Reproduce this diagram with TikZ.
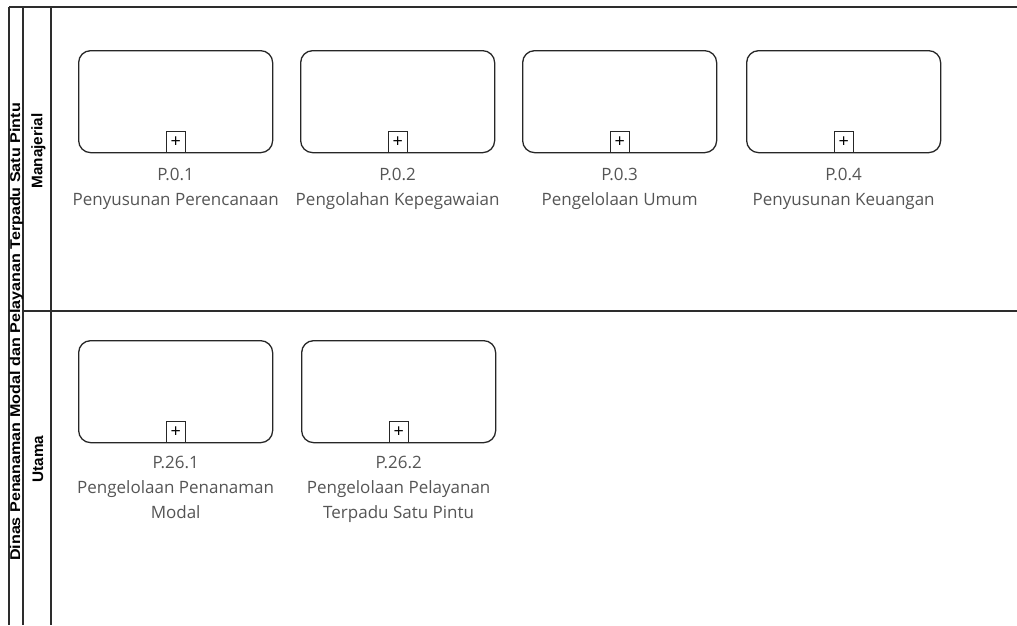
\documentclass[tikz,border=0pt]{standalone}
\usepackage{fontspec}
\setmainfont{Open Sans}
\newfontfamily\lanefont{Liberation Sans}
\definecolor{txt}{RGB}{85,85,85}
\definecolor{ln}{RGB}{45,45,45}
\begin{document}
\begin{tikzpicture}[x=1pt,y=-1pt,
  sub/.style={draw=black!85,line width=1.3pt,rounded corners=12pt,minimum width=194pt,minimum height=102pt,inner sep=0pt,anchor=north west},
  plusbox/.style={draw=black!85,line width=1pt,minimum width=19pt,minimum height=21pt,inner sep=0pt,anchor=south,fill=white,font=\fontsize{18}{18}\selectfont},
  lbl/.style={anchor=north,align=center,text=txt,font=\fontsize{17}{25}\selectfont,inner sep=0pt},
  lane/.style={line width=1.3pt,draw=ln},
  lanelbl/.style={rotate=90,inner sep=0pt,font=\lanefont\bfseries\fontsize{15.3}{16}\selectfont},
  poollbl/.style={rotate=90,inner sep=0pt,font=\lanefont\bfseries\fontsize{16.1}{17}\selectfont}]
\useasboundingbox (0,0) rectangle (1017,625);

% lane frame
\coordinate (tl) at (9,7);
\coordinate (tr) at (1017,7);
\coordinate (bl) at (9,625);
\coordinate (c2t) at (23,7);
\coordinate (c2b) at (23,625);
\coordinate (c3t) at (51,7);
\coordinate (c3b) at (51,625);
\coordinate (dl) at (23,311);
\coordinate (dr) at (1017,311);
\draw[lane] (tl) -- (tr);
\draw[lane] (tl) -- (bl);
\draw[lane] (c2t) -- (c2b);
\draw[lane] (c3t) -- (c3b);
\draw[lane] (dl) -- (dr);

% lane labels
\node[poollbl] (pool) at (16.5,332) {\scalebox{1}[0.88]{Dinas Penanaman Modal dan Pelayanan Terpadu Satu Pintu}};
\node[lanelbl] (lane1) at (38.5,151) {Manajerial};
\node[lanelbl] (lane2) at (38,459) {Utama};

% row 1
\node[sub] (p01) at (78,50) {};
\node[sub] (p02) at (300,50) {};
\node[sub] (p03) at (522,50) {};
\node[sub] (p04) at (746,50) {};
% row 2
\node[sub] (p261) at (78,340) {};
\node[sub] (p262) at (301,340) {};

\foreach \n in {p01,p02,p03,p04,p261,p262}{
  \node[plusbox] (\n-plus) at (\n.south) {+};
}

\node[lbl] (l01) at ([yshift=-15pt]p01.south) {P.0.1\\Penyusunan Perencanaan};
\node[lbl] (l02) at ([yshift=-15pt]p02.south) {P.0.2\\Pengolahan Kepegawaian};
\node[lbl] (l03) at ([yshift=-15pt]p03.south) {P.0.3\\Pengelolaan Umum};
\node[lbl] (l04) at ([yshift=-15pt]p04.south) {P.0.4\\Penyusunan Keuangan};
\node[lbl] (l261) at ([yshift=-13pt]p261.south) {P.26.1\\Pengelolaan Penanaman\\Modal};
\node[lbl] (l262) at ([yshift=-13pt]p262.south) {P.26.2\\Pengelolaan Pelayanan\\Terpadu Satu Pintu};
\end{tikzpicture}
\end{document}
